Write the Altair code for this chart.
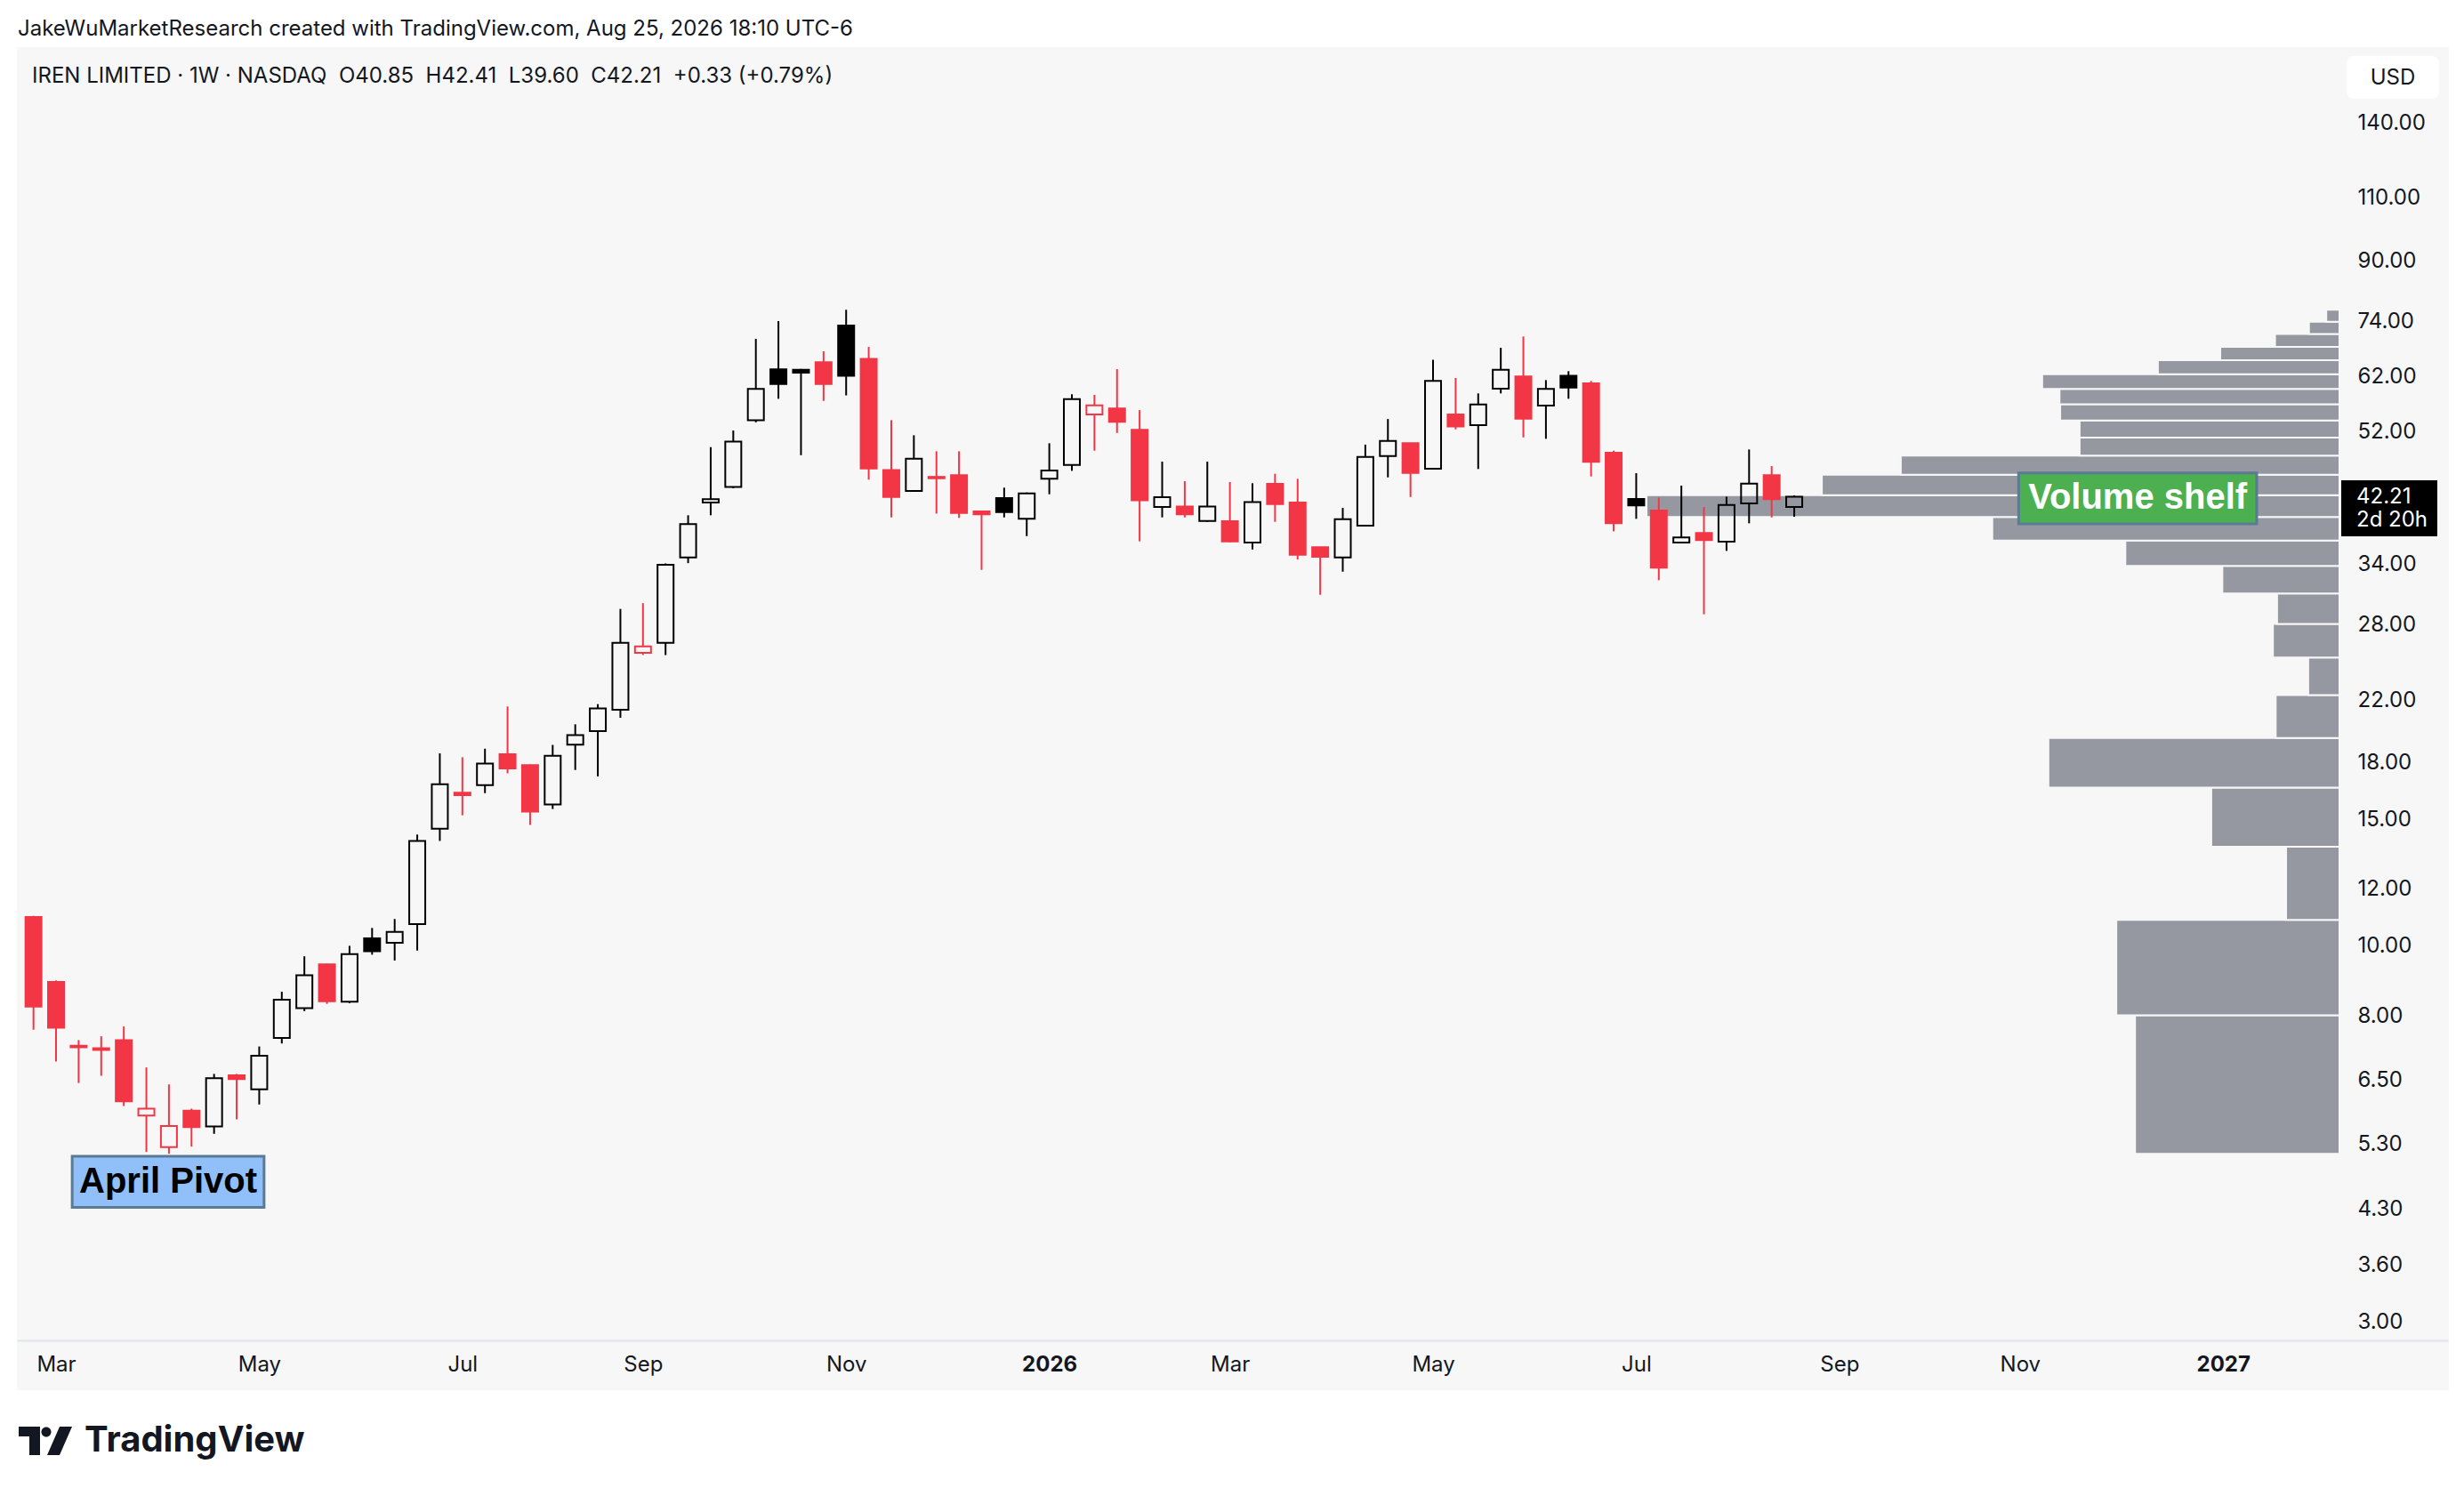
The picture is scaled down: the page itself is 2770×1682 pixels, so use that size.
import altair as alt
import numpy as np
import pandas as pd

# ---------------- data ----------------
FIRST_WEEK = "2025-02-24"   # first weekly bar (Monday)
N_WEEKS = 79

opens = [10.98, 8.92, 7.27, 7.21, 7.40, 5.81, 5.25, 5.90, 5.61, 6.61,
         6.32, 7.45, 8.20, 9.43, 8.37, 10.25, 10.11, 10.73, 14.57, 16.35,
         16.75, 18.50, 17.86, 15.75, 19.08, 19.92, 21.34, 25.61, 26.44, 34.76,
         41.44, 43.58, 53.97, 63.50, 63.45, 64.98, 73.10, 65.70, 46.00, 43.00,
         45.00, 45.25, 40.28, 42.03, 39.34, 44.73, 46.77, 54.96, 56.02, 52.31,
         40.86, 40.93, 39.07, 39.04, 36.45, 44.00, 41.44, 35.91, 34.76, 38.48,
         48.11, 50.12, 46.19, 54.96, 53.10, 59.70, 62.08, 56.55, 62.20, 60.73,
         48.61, 41.92, 40.39, 36.45, 37.60, 36.56, 41.32, 45.25, 40.85]
highs = [11.02, 8.96, 7.40, 7.49, 7.73, 6.78, 6.42, 5.94, 6.64, 6.64,
         7.25, 8.64, 9.68, 9.45, 10.01, 10.60, 10.91, 14.30, 18.55, 18.32,
         18.83, 21.56, 17.90, 19.06, 20.36, 21.72, 29.47, 30.02, 34.10, 39.79,
         49.50, 52.21, 70.03, 74.14, 63.60, 67.30, 76.88, 68.25, 53.97, 51.42,
         48.85, 48.85, 40.30, 43.47, 42.80, 50.12, 58.64, 58.52, 63.57, 55.74,
         47.26, 44.39, 47.26, 44.26, 44.09, 45.45, 44.73, 35.95, 40.74, 49.90,
         54.17, 50.20, 65.50, 61.78, 58.80, 68.06, 70.57, 61.37, 63.15, 61.20,
         48.94, 45.54, 42.11, 43.76, 40.86, 42.23, 49.13, 46.58, 42.41]
lows = [7.65, 6.91, 6.45, 6.60, 5.99, 5.17, 5.14, 5.26, 5.48, 5.74,
        6.02, 7.32, 8.12, 8.31, 8.33, 9.73, 9.55, 9.86, 14.01, 15.21,
        16.33, 17.40, 14.75, 15.52, 17.59, 17.23, 20.79, 25.43, 25.42, 34.13,
        39.79, 43.40, 53.60, 57.80, 48.24, 57.40, 58.43, 44.60, 39.52, 42.90,
        40.00, 39.45, 33.40, 39.52, 37.22, 42.56, 45.88, 48.94, 51.80, 36.60,
        39.52, 39.52, 38.96, 36.50, 35.66, 38.96, 34.53, 30.84, 33.21, 38.40,
        44.93, 42.19, 46.10, 52.40, 46.15, 58.80, 51.07, 50.84, 57.80, 45.06,
        37.80, 39.34, 32.31, 36.40, 28.97, 35.50, 38.78, 39.52, 39.60]
closes = [8.24, 7.70, 7.23, 7.17, 6.08, 5.94, 5.62, 5.60, 6.55, 6.53,
          7.04, 8.42, 9.11, 8.38, 9.75, 9.84, 10.47, 14.01, 16.80, 16.22,
          17.95, 17.68, 15.39, 18.41, 19.67, 21.43, 26.43, 26.13, 33.95, 38.67,
          41.88, 50.37, 59.65, 60.60, 62.84, 60.60, 62.20, 46.23, 42.19, 47.70,
          44.80, 40.08, 39.90, 40.20, 42.68, 45.93, 57.74, 56.60, 53.67, 41.76,
          42.16, 39.90, 40.93, 36.60, 41.52, 41.24, 35.06, 34.83, 39.30, 47.97,
          50.50, 45.58, 61.20, 52.90, 56.76, 63.45, 54.22, 59.65, 59.93, 47.22,
          38.78, 41.06, 33.63, 37.05, 36.75, 41.13, 44.04, 41.88, 42.21]

# Visible-range volume profile: row price edges and relative volume (POC = 100)
vp_edges = [5.14, 8.01, 10.88, 13.75, 16.62, 19.49, 22.36, 25.22, 28.09, 30.96,
            33.83, 36.70, 39.57, 42.44, 45.31, 48.18, 51.05, 53.92, 56.79, 59.66,
            62.53, 65.40, 68.27, 71.14, 74.01, 76.88]
vp_volume = [29.5, 32.2, 7.7, 18.5, 42.0, 9.2, 4.5, 9.6, 9.0, 16.9,
             30.9, 50.1, 100.0, 74.7, 63.3, 37.5, 37.5, 40.3, 40.4, 42.9,
             26.2, 17.2, 9.3, 4.4, 1.9]

y_ticks = [3.0, 3.6, 4.3, 5.3, 6.5, 8.0, 10.0, 12.0, 15.0, 18.0, 22.0, 28.0,
           34.0, 52.0, 62.0, 74.0, 90.0, 110.0, 140.0]
x_tick_dates = ["2025-03-03", "2025-05-05", "2025-07-07", "2025-09-01",
                "2025-11-03", "2026-01-05", "2026-03-02", "2026-05-04",
                "2026-07-06", "2026-09-07", "2026-11-02", "2027-01-04"]

header_top = "JakeWuMarketResearch created with TradingView.com, Aug 25, 2026 18:10 UTC-6"
symbol_name = "IREN LIMITED \u00b7 1W \u00b7 NASDAQ"
change_abs = 0.33
change_pct = 0.79
countdown = "2d 20h"

# annotations (time / price anchored, like TradingView drawings)
ann_labels = ["April Pivot", "Volume shelf"]
ann_x1 = ["2025-03-08T00:00:00Z", "2026-11-01T14:00:00Z"]
ann_x2 = ["2025-05-06T12:00:00Z", "2027-01-14T10:00:00Z"]
ann_lo = [4.33, 38.71]
ann_hi = [5.10, 45.57]
ann_tx = ["2025-04-06T18:00:00Z", "2026-12-08T12:00:00Z"]
ann_ty = [4.70, 42.0]

# ---------------- styling / layout ----------------
RED = "#f23645"
BLACK = "#000000"
VPGRAY = "#9598a1"
PANEL = "#f7f7f7"
TXT = "#131722"

W, H = 2733, 1509
PX_PER_DAY = 3.6386
FIRST_X = 13.7          # pixel position of first bar inside plot
PROFILE_RIGHT = 2611    # right edge of the price pane
AXIS_GAP = W - PROFILE_RIGHT

t0 = pd.Timestamp(FIRST_WEEK, tz="UTC")
dom0 = t0 - pd.Timedelta(days=FIRST_X / PX_PER_DAY)
dom1 = t0 + pd.Timedelta(days=(W - FIRST_X) / PX_PER_DAY)
ms = lambda t: int(pd.Timestamp(t).value // 10**6)

dates = pd.date_range(FIRST_WEEK, periods=N_WEEKS, freq="7D")
df = pd.DataFrame({"date": dates.strftime("%Y-%m-%d"), "open": opens,
                   "high": highs, "low": lows, "close": closes})
prev = df["close"].shift(1)
df["col"] = np.where(prev.isna() | (df["close"] < prev), RED, BLACK)
df["fill"] = np.where(df["close"] < df["open"], df["col"], "transparent")
df["btop"] = df[["open", "close"]].max(axis=1)
df["bbot"] = df[["open", "close"]].min(axis=1)

vp = pd.DataFrame({"lo": vp_edges[:-1], "hi": vp_edges[1:], "vol": vp_volume})
vp["base"] = 0.0

ann = pd.DataFrame({"label": ann_labels, "x1": ann_x1, "x2": ann_x2, "lo": ann_lo,
                    "hi": ann_hi, "tx": ann_tx, "ty": ann_ty,
                    "fill": ["#90bff9", "#4caf50"], "tcol": ["#000000", "#ffffff"]})

last = df.iloc[-1]
sym_line = (f"{symbol_name}\u00a0\u00a0O{last.open:.2f}\u00a0\u00a0H{last.high:.2f}"
            f"\u00a0\u00a0L{last.low:.2f}\u00a0\u00a0C{last.close:.2f}"
            f"\u00a0\u00a0+{change_abs:.2f} (+{change_pct:.2f}%)")
tag = pd.DataFrame({"price": [last.close], "txt": [f"{last.close:.2f}"], "cd": [countdown]})

# ---------------- scales & axes ----------------
yscale = alt.Scale(type="log", domain=[2.4165, 178.4], nice=False)
yaxis = alt.Axis(orient="right", offset=-AXIS_GAP, values=y_ticks, format=".2f",
                 domain=False, ticks=False, tickSize=0, grid=False, labelPadding=20,
                 labelAlign="left", labelBaseline="middle", labelFontSize=24,
                 labelFont="Inter", labelColor=TXT, title=None, labelOverlap=False,
                 labelFlush=False)
xscale = alt.Scale(type="utc", domain=[ms(dom0), ms(dom1)], nice=False)
is_jan = "utcFormat(datum.value, '%m') == '01'"
xaxis = alt.Axis(orient="bottom", offset=-55, values=[ms(pd.Timestamp(d, tz="UTC")) for d in x_tick_dates],
                 labelExpr=f"{is_jan} ? utcFormat(datum.value, '%Y') : utcFormat(datum.value, '%b')",
                 labelFontWeight={"condition": {"test": is_jan, "value": "bold"}, "value": "normal"},
                 domain=True, domainColor="#e0e3eb", domainWidth=2, ticks=False, tickSize=0,
                 grid=False, labelPadding=27, labelBaseline="middle", labelFontSize=24,
                 labelFont="Inter", labelColor=TXT, title=None, labelOverlap=False,
                 labelFlush=False)
vp_scale = alt.Scale(domain=[-AXIS_GAP / 7.79, (W - AXIS_GAP) / 7.79], reverse=True, nice=False, zero=False)

# ---------------- layers ----------------
profile = alt.Chart(vp).mark_rect(color=VPGRAY, stroke=PANEL, strokeWidth=2).encode(
    x=alt.X("vol:Q", scale=vp_scale, axis=None), x2="base:Q",
    y=alt.Y("lo:Q", scale=yscale, axis=yaxis), y2="hi:Q")

base = alt.Chart(df)
xenc = alt.X("date:T", scale=xscale, axis=xaxis)
wick_up = base.mark_rule(strokeWidth=2).encode(
    x=xenc, y=alt.Y("high:Q", scale=yscale, axis=yaxis), y2="btop:Q",
    color=alt.Color("col:N", scale=None))
wick_dn = base.mark_rule(strokeWidth=2).encode(
    x=xenc, y=alt.Y("bbot:Q", scale=yscale, axis=yaxis), y2="low:Q",
    color=alt.Color("col:N", scale=None))
bodies = base.mark_bar(size=18, strokeWidth=2).encode(
    x=xenc, y=alt.Y("btop:Q", scale=yscale, axis=yaxis), y2="bbot:Q",
    fill=alt.Fill("fill:N", scale=None), stroke=alt.Stroke("col:N", scale=None))

ann_box = alt.Chart(ann).mark_rect(stroke="#5b7a93", strokeWidth=3).encode(
    x=alt.X("x1:T", scale=xscale, axis=xaxis), x2="x2:T",
    y=alt.Y("lo:Q", scale=yscale, axis=yaxis), y2="hi:Q",
    fill=alt.Fill("fill:N", scale=None))
ann_txt = alt.Chart(ann).mark_text(font="Liberation Sans", fontWeight="bold", fontSize=40,
                                    align="center", baseline="middle").encode(
    x=alt.X("tx:T", scale=xscale, axis=xaxis),
    y=alt.Y("ty:Q", scale=yscale, axis=yaxis),
    text="label:N", color=alt.Color("tcol:N", scale=None))

price_pane = alt.layer(wick_up, wick_dn, bodies, ann_box, ann_txt)

tag_box = alt.Chart(tag).mark_tick(orient="horizontal", size=108, thickness=63, yOffset=13,
                                   color="#000000", opacity=1).encode(
    x=alt.value(PROFILE_RIGHT + 56), y=alt.Y("price:Q", scale=yscale, axis=yaxis))
tag_txt = alt.Chart(tag).mark_text(align="left", baseline="middle", fontSize=24, font="Inter",
                                   color="#ffffff").encode(
    x=alt.value(PROFILE_RIGHT + 19), y=alt.Y("price:Q", scale=yscale, axis=yaxis), text="txt:N")
tag_cd = alt.Chart(tag).mark_text(align="left", baseline="middle", fontSize=24, font="Inter",
                                  color="#ffffff", dy=26).encode(
    x=alt.value(PROFILE_RIGHT + 19), y=alt.Y("price:Q", scale=yscale, axis=yaxis), text="cd:N")

one = pd.DataFrame({"a": [0]})
usd_box = alt.Chart(one).mark_rect(fill="#ffffff", cornerRadius=8).encode(
    x=alt.value(PROFILE_RIGHT + 8), x2=alt.value(PROFILE_RIGHT + 112),
    y=alt.value(10), y2=alt.value(58))
usd_txt = alt.Chart(pd.DataFrame({"t": ["USD"]})).mark_text(
    fontSize=24, font="Inter", color=TXT, align="center", baseline="middle").encode(
    x=alt.value(PROFILE_RIGHT + 60), y=alt.value(35), text="t:N")

top_txt = alt.Chart(pd.DataFrame({"t": [header_top]})).mark_text(
    align="left", baseline="middle", fontSize=24, font="Inter", color=TXT).encode(
    x=alt.value(1), y=alt.value(-20), text="t:N")
sym_txt = alt.Chart(pd.DataFrame({"t": [sym_line]})).mark_text(
    align="left", baseline="middle", fontSize=24, font="Inter", color=TXT).encode(
    x=alt.value(17), y=alt.value(33), text="t:N")

logo_path = ("M -1 -0.533 L -0.2 -0.533 L -0.2 0.533 L -0.6 0.533 L -0.6 -0.167 L -1 -0.167 Z "
             "M 0.217 -0.333 A 0.183 0.183 0 1 0 -0.15 -0.333 A 0.183 0.183 0 1 0 0.217 -0.333 Z "
             "M 0.533 -0.533 L 1 -0.533 L 0.533 0.533 L 0.067 0.533 Z")
logo = alt.Chart(one).mark_point(shape=logo_path, filled=True, size=3600, color=TXT, opacity=1).encode(
    x=alt.value(32), y=alt.value(1567))
logo_txt = alt.Chart(pd.DataFrame({"t": ["TradingView"]})).mark_text(
    align="left", baseline="middle", fontSize=40, font="Inter", fontWeight="bold", color=TXT).encode(
    x=alt.value(76), y=alt.value(1567), text="t:N")

chart = alt.layer(
    profile, price_pane, tag_box, tag_txt, tag_cd, usd_box, usd_txt, top_txt, sym_txt, logo, logo_txt
).resolve_scale(x="independent").properties(
    width=W, height=H,
    padding={"left": 11, "top": 45, "right": 10, "bottom": 110},
    autosize=alt.AutoSizeParams(type="none"),
    background="#ffffff",
).configure_view(fill=PANEL, stroke=PANEL)

chart.save("out.html", embed_options={"renderer": "svg", "actions": False})
